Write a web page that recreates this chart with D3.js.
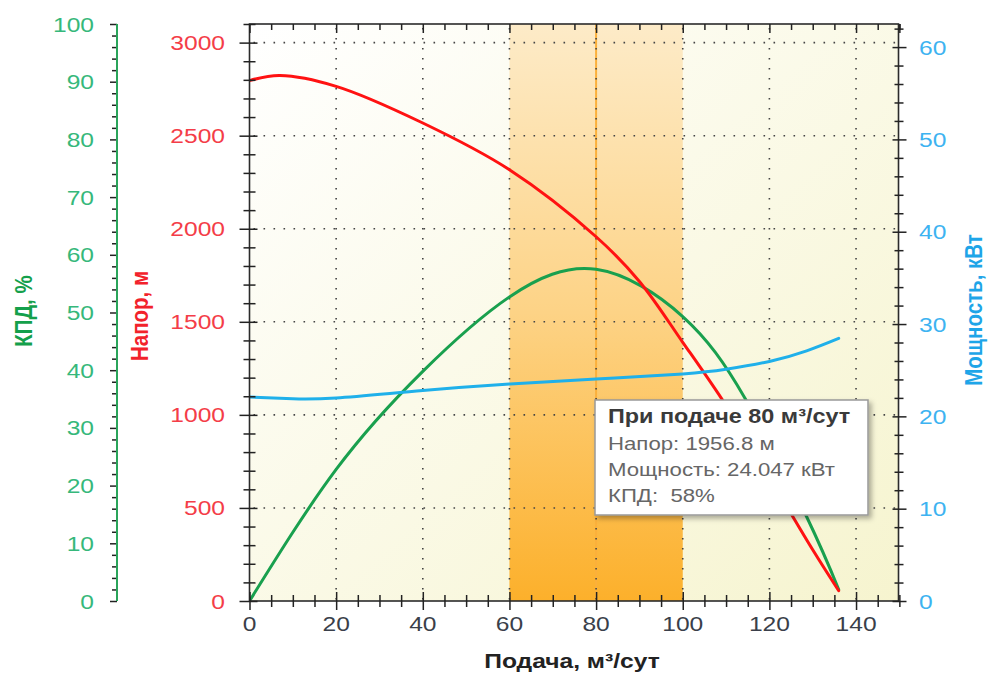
<!DOCTYPE html>
<html><head><meta charset="utf-8">
<script src="https://cdn.jsdelivr.net/npm/d3@7"></script>
<style>body{margin:0;background:#fff}svg{display:block}</style>
</head><body><svg id="c" width="988" height="673"></svg>
<script>
// ---------- data ----------
const flowTicks = [0, 20, 40, 60, 80, 100, 120, 140];
const headTicks = [0, 500, 1000, 1500, 2000, 2500, 3000];
const effTicks = [0, 10, 20, 30, 40, 50, 60, 70, 80, 90, 100];
const powerTicks = [0, 10, 20, 30, 40, 50, 60];

const headFlow = [0, 7, 20, 40, 60, 80, 90, 100, 110, 120, 130, 136];
const headVals = [2796, 2823, 2765, 2568, 2317, 1957, 1717, 1390, 1050, 665, 275, 55];

const effFlow = [0, 20, 40, 60, 80, 100, 114.4, 128.6, 136];
const effVals = [0, 22.8, 39.8, 52.7, 57.5, 49.3, 35.1, 14.6, 2];

const powerFlow = [0, 10, 20, 40, 60, 80, 100, 110, 120, 128.6, 136];
const powerVals = [22.1, 21.9, 22.0, 22.8, 23.5, 24.05, 24.6, 25.1, 25.95, 27.1, 28.45];

const bandRange = [60, 100];
const markerFlow = 80;
const tooltipTitle = "При подаче 80 м³/сут";
const tooltipLines = ["Напор: 1956.8 м", "Мощность: 24.047 кВт", "КПД:  58%"];
const xTitle = "Подача, м³/сут";
const effTitle = "КПД, %";
const headTitle = "Напор, м";
const powerTitle = "Мощность, кВт";

// ---------- layout ----------
const L = 249.5, R = 898.5, T = 24, B = 601;
const SX = 1.2; // horizontal text stretch
const FONT = "'Liberation Sans', Arial, sans-serif";

const x = d3.scaleLinear([0, 150], [L, L + (R - L) * 150 / 149.8]);
const yH = d3.scaleLinear([0, 3100], [B, T]);
const yE = d3.scaleLinear([0, 100], [B, T]);
const yP = d3.scaleLinear([0, 62.5], [B, T]);

const svg = d3.select("#c");
const defs = svg.append("defs");

const bg = defs.append("linearGradient").attr("id", "bg").attr("x1", 0).attr("y1", 0).attr("x2", 1).attr("y2", 1);
bg.append("stop").attr("offset", 0).attr("stop-color", "#ffffff");
bg.append("stop").attr("offset", 1).attr("stop-color", "#f6f4cf");

const bandG = defs.append("linearGradient").attr("id", "band").attr("x1", 0).attr("y1", 0).attr("x2", 0).attr("y2", 1);
bandG.append("stop").attr("offset", 0).attr("stop-color", "#fdebc8");
bandG.append("stop").attr("offset", 0.5).attr("stop-color", "#fdd386");
bandG.append("stop").attr("offset", 1).attr("stop-color", "#fcb02b");

const sh = defs.append("filter").attr("id", "shadow").attr("x", "-10%").attr("y", "-10%").attr("width", "130%").attr("height", "140%");
sh.append("feDropShadow").attr("dx", 3).attr("dy", 3).attr("stdDeviation", 2.5).attr("flood-color", "#000").attr("flood-opacity", 0.3);

const clip = defs.append("clipPath").attr("id", "plot");
clip.append("rect").attr("x", L).attr("y", T).attr("width", R - L).attr("height", B - T);

// plot background
svg.append("rect").attr("x", L).attr("y", T).attr("width", R - L).attr("height", B - T).attr("fill", "url(#bg)");
svg.append("rect").attr("x", x(bandRange[0])).attr("y", T)
  .attr("width", x(bandRange[1]) - x(bandRange[0])).attr("height", B - T).attr("fill", "url(#band)");
svg.append("line").attr("x1", x(markerFlow)).attr("x2", x(markerFlow)).attr("y1", T).attr("y2", B)
  .attr("stroke", "#fbb03b").attr("stroke-width", 2);

// grid
const grid = svg.append("g").attr("stroke", "#444").attr("stroke-width", 1.6).attr("stroke-dasharray", "1.6,8.4");
grid.selectAll(".gx").data(flowTicks.filter(d => d > 0)).join("line")
  .attr("x1", d => x(d)).attr("x2", d => x(d)).attr("y1", T + 4).attr("y2", B);
grid.selectAll(".gy").data(headTicks.filter(d => d > 0)).join("line")
  .attr("y1", d => yH(d)).attr("y2", d => yH(d)).attr("x1", L + 4).attr("x2", R);

// curves
const plot = svg.append("g").attr("clip-path", "url(#plot)").attr("fill", "none").attr("stroke-linecap", "round");
plot.append("path").attr("d", d3.line().x(d => x(d[0])).y(d => yE(d[1])).curve(d3.curveNatural)(d3.zip(effFlow, effVals)))
  .attr("stroke", "#19a04e").attr("stroke-width", 3);
plot.append("path").attr("d", d3.line().x(d => x(d[0])).y(d => yH(d[1])).curve(d3.curveCatmullRom.alpha(0.5))(d3.zip(headFlow, headVals)))
  .attr("stroke", "#ff1212").attr("stroke-width", 3);
plot.append("path").attr("d", d3.line().x(d => x(d[0])).y(d => yP(d[1])).curve(d3.curveNatural)(d3.zip(powerFlow, powerVals)))
  .attr("stroke", "#1fb0ea").attr("stroke-width", 3);

// frame
svg.append("rect").attr("x", L).attr("y", T).attr("width", R - L).attr("height", B - T)
  .attr("fill", "none").attr("stroke", "#2b2b2b").attr("stroke-width", 1.6);

function styleTicks(g, col, w) { g.select(".domain").remove(); g.selectAll(".tick line").attr("stroke", col).attr("stroke-width", w); }

// bottom axis ticks (crossing)
const minorX = d3.range(0, 151, 5).filter(d => d % 20 !== 0);
svg.append("g").attr("transform", `translate(0,${B})`)
  .call(d3.axisBottom(x).tickValues(minorX).tickSize(6).tickFormat(""))
  .call(g => { styleTicks(g, "#222", 1.5); g.selectAll(".tick line").attr("y1", -6); });
svg.append("g").attr("transform", `translate(0,${B})`)
  .call(d3.axisBottom(x).tickValues(flowTicks).tickSize(9).tickFormat(""))
  .call(g => { styleTicks(g, "#222", 1.5); g.selectAll(".tick line").attr("y1", -9); });
// top axis ticks (inward)
svg.append("g").attr("transform", `translate(0,${T})`)
  .call(d3.axisTop(x).tickValues(minorX).tickSize(-6).tickFormat(""))
  .call(g => styleTicks(g, "#222", 1.5));
svg.append("g").attr("transform", `translate(0,${T})`)
  .call(d3.axisTop(x).tickValues(flowTicks.concat([150])).tickSize(-9).tickFormat(""))
  .call(g => styleTicks(g, "#222", 1.5));

// head axis ticks (left of plot, crossing)
const minorH = d3.range(0, 3101, 100).filter(d => d % 500 !== 0);
svg.append("g").attr("transform", `translate(${L},0)`)
  .call(d3.axisLeft(yH).tickValues(minorH).tickSize(6).tickFormat(""))
  .call(g => { styleTicks(g, "#222", 1.5); g.selectAll(".tick line").attr("x1", 6); });
svg.append("g").attr("transform", `translate(${L},0)`)
  .call(d3.axisLeft(yH).tickValues(headTicks).tickSize(10).tickFormat(""))
  .call(g => { styleTicks(g, "#222", 1.5); g.selectAll(".tick line").attr("x1", 8); });

// power axis ticks (right, crossing)
const minorP = d3.range(0, 62.5, 2).filter(d => d % 10 !== 0);
svg.append("g").attr("transform", `translate(${R},0)`)
  .call(d3.axisRight(yP).tickValues(minorP).tickSize(5).tickFormat(""))
  .call(g => { styleTicks(g, "#222", 1.5); g.selectAll(".tick line").attr("x1", -4); });
svg.append("g").attr("transform", `translate(${R},0)`)
  .call(d3.axisRight(yP).tickValues(powerTicks).tickSize(8).tickFormat(""))
  .call(g => { styleTicks(g, "#222", 1.5); g.selectAll(".tick line").attr("x1", -6); });

// efficiency axis (separate, far left)
const EX = 117;
const minorE = d3.range(0, 101, 2).filter(d => d % 10 !== 0);
svg.append("g").attr("transform", `translate(${EX},0)`)
  .call(d3.axisLeft(yE).tickValues(minorE).tickSize(5).tickFormat(""))
  .call(g => styleTicks(g, "#222", 1.5));
svg.append("g").attr("transform", `translate(${EX},0)`)
  .call(d3.axisLeft(yE).tickValues(effTicks).tickSize(7).tickFormat(""))
  .call(g => styleTicks(g, "#222", 1.5));
svg.append("line").attr("x1", EX).attr("x2", EX).attr("y1", T).attr("y2", B)
  .attr("stroke", "#2aa45a").attr("stroke-width", 2);

// tick labels
function labels(data, px, py, anchor, color) {
  svg.append("g").selectAll("text").data(data).join("text")
    .attr("transform", d => `translate(${px(d)},${py(d)}) scale(${SX},1)`)
    .attr("text-anchor", anchor).attr("font-family", FONT).attr("font-size", 20.5)
    .attr("fill", color).text(d => d);
}
labels(flowTicks, d => x(d), () => 631, "middle", "#3a3f4a");
labels(headTicks, () => 225, d => yH(d) + 7.5, "end", "#f43d48");
labels(effTicks, () => 94, d => yE(d) + 7.5, "end", "#36b87b");
labels(powerTicks, () => 919, d => yP(d) + 7.5, "start", "#3db3f1");

// axis titles
svg.append("text").attr("transform", `translate(572,668) scale(${SX},1)`).attr("text-anchor", "middle")
  .attr("font-family", FONT).attr("font-weight", "bold").attr("font-size", 20.5).attr("fill", "#222").text(xTitle);
function vtitle(t, cx, cy, col, fs) {
  svg.append("text").attr("transform", `translate(${cx},${cy}) scale(${SX},1) rotate(-90)`)
    .attr("text-anchor", "middle").attr("dy", "0.36em")
    .attr("font-family", FONT).attr("font-weight", "bold").attr("font-size", fs).attr("fill", col).text(t);
}
vtitle(effTitle, 23, 311, "#14a04b", 20.5);
vtitle(headTitle, 139, 316, "#f2222b", 20.5);
vtitle(powerTitle, 973, 310, "#1ea5e8", 20.5);

// tooltip
const tip = svg.append("g");
tip.append("rect").attr("x", 595).attr("y", 400).attr("width", 273).attr("height", 115)
  .attr("fill", "#fff").attr("stroke", "#999").attr("stroke-width", 1.5).attr("filter", "url(#shadow)");
tip.append("text").attr("transform", `translate(608,423) scale(${SX},1)`)
  .attr("font-family", FONT).attr("font-weight", "bold").attr("font-size", 19.5).attr("fill", "#3a3a3a").text(tooltipTitle);
tip.selectAll(".tl").data(tooltipLines).join("text")
  .attr("transform", (d, i) => `translate(608,${450 + i * 26}) scale(${SX},1)`)
  .style("white-space", "pre")
  .attr("font-family", FONT).attr("font-size", 18.5).attr("fill", "#666").text(d => d);
</script></body></html>
